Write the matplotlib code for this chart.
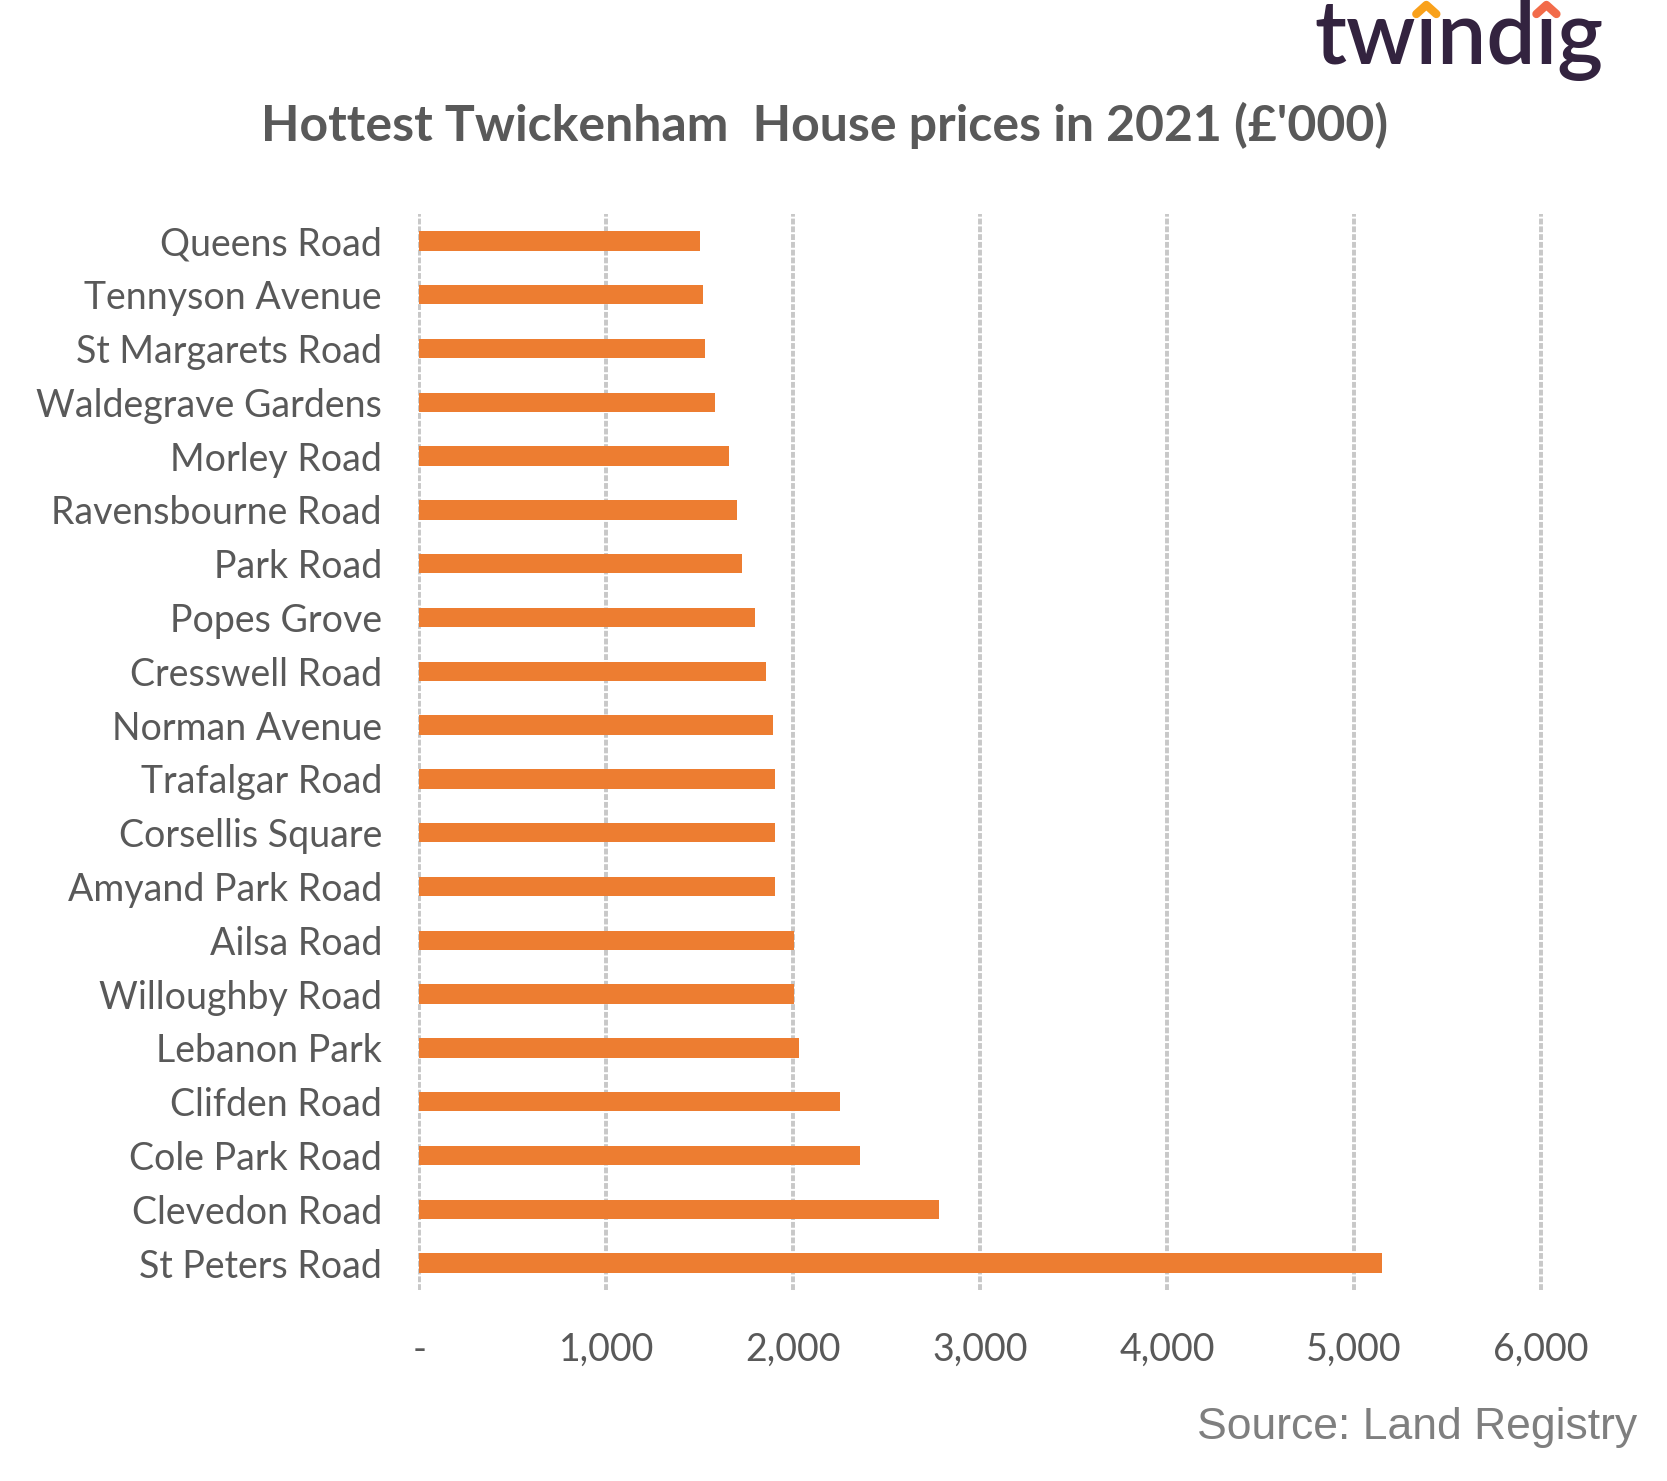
import numpy as np
import matplotlib
matplotlib.use("Agg")
import matplotlib.pyplot as plt

# ===================== data =====================
roads = [
    "Queens Road", "Tennyson Avenue", "St Margarets Road", "Waldegrave Gardens",
    "Morley Road", "Ravensbourne Road", "Park Road", "Popes Grove",
    "Cresswell Road", "Norman Avenue", "Trafalgar Road", "Corsellis Square",
    "Amyand Park Road", "Ailsa Road", "Willoughby Road", "Lebanon Park",
    "Clifden Road", "Cole Park Road", "Clevedon Road", "St Peters Road",
]
prices = [1500, 1514, 1525, 1583, 1654, 1701, 1724, 1793,
          1853, 1889, 1900, 1900, 1900, 2006, 2006, 2028,
          2252, 2359, 2778, 5150]
x_ticks = [0, 1000, 2000, 3000, 4000, 5000, 6000]
x_ticklabels = ["-", "1,000", "2,000", "3,000", "4,000", "5,000", "6,000"]

title = "Hottest Twickenham  House prices in 2021 (£'000)"
source = "Source: Land Registry"

BAR_COLOR = "#ED7D31"
TEXT_GREY = "#595959"
W, H = 1667, 1481

fig = plt.figure(figsize=(W / 100, H / 100), dpi=100)
ax = fig.add_axes([418 / W, 1 - 1290 / H, (1543 - 418) / W, (1290 - 214) / H])

ypos = np.arange(len(roads))
ax.barh(ypos, prices, height=0.36, color=BAR_COLOR, zorder=3)
ax.set_ylim(len(roads) - 0.5, -0.5)
ax.set_xlim(-8, 6010)

ax.set_yticks(ypos)
ax.set_yticklabels(roads, fontsize=27, color=TEXT_GREY, family="Lato")
ax.set_xticks(x_ticks)
ax.set_xticklabels(x_ticklabels, fontsize=27, color=TEXT_GREY, family="Lato")
ax.tick_params(axis="y", length=0, pad=26)
ax.tick_params(axis="x", length=0, pad=30)

for s in ax.spines.values():
    s.set_visible(False)
ax.grid(axis="x", color="#c8c8c8", linewidth=2.8, linestyle=(0, (1.5, 0.5)), zorder=0)
ax.grid(axis="y", visible=False)

fig.text(825 / W, 1 - 125 / H, title, fontsize=36, fontweight="bold",
         color=TEXT_GREY, family="Lato", ha="center", va="center")
fig.text(1637 / W, 1 - 1427 / H, source, fontsize=32, color="#7F7F7F",
         family="Liberation Sans", ha="right", va="center")

# ===================== logo =====================
logo_kw = dict(fontsize=63, color="#33233F", family="Lato", fontweight="semibold",
               ha="left", va="baseline")
lx, ly = 1314 / W, 1 - 64 / H
logo = fig.text(lx, ly, "tw\u0131nd\u0131g", **logo_kw)
fig.canvas.draw()
r = fig.canvas.get_renderer()


def prefix_w(s):
    t = fig.text(lx, ly, s, **logo_kw)
    w = t.get_window_extent(r).width
    t.remove()
    return w


x0 = lx * W
for pre, col in [("tw", "#F9A11B"), ("tw\u0131nd", "#F26B4A")]:
    a = prefix_w(pre)
    b = prefix_w(pre + "\u0131")
    cx = x0 + (a + b) / 2
    cy = H - 5
    fig.add_artist(plt.Line2D([(cx - 10) / W, cx / W, (cx + 10) / W],
                              [(cy - 9) / H, cy / H, (cy - 9) / H],
                              transform=fig.transFigure, color=col, linewidth=6,
                              solid_capstyle="round", solid_joinstyle="round"))

fig.savefig("out.png", dpi=100)
